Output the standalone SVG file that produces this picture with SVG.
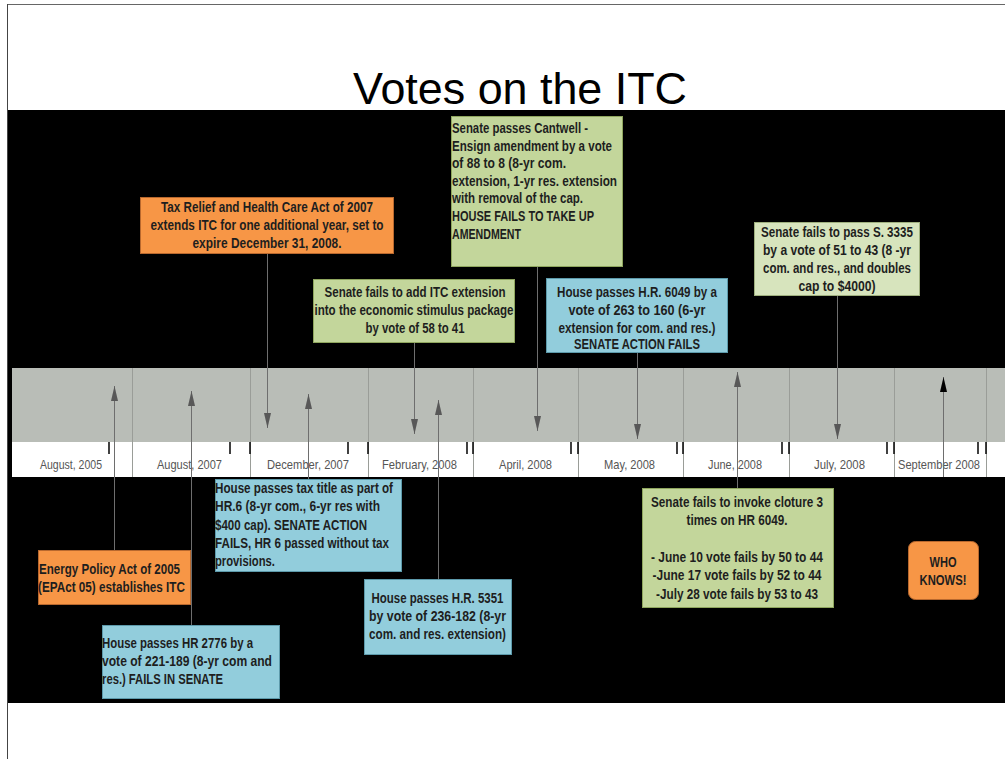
<svg xmlns="http://www.w3.org/2000/svg" width="1005" height="759" viewBox="0 0 1005 759">
<style>
.bx{font-family:"Liberation Sans",Arial,sans-serif;font-weight:bold;font-size:15px;fill:#1e1e1e}
.c{text-anchor:middle}
.lbl{font-family:"Liberation Sans",Arial,sans-serif;font-size:13px;fill:#555}
.or{fill:#F79646;stroke:#b8682e;stroke-width:1}
.gr{fill:#C3D69B;stroke:#8fa65e;stroke-width:1}
.pg{fill:#D7E4BD;stroke:#9fb07e;stroke-width:1}
.bl{fill:#92CDDC;stroke:#5d9aab;stroke-width:1}
.sep{stroke:#9a9d98;stroke-width:1}
.tk{stroke:#111;stroke-width:1.6}
.cn{stroke:#6e6e6e;stroke-width:1;fill:none}
</style>
<defs>
<marker id="ah" viewBox="0 0 15 8" markerWidth="15" markerHeight="8" refX="15" refY="4" orient="auto" markerUnits="userSpaceOnUse"><path d="M0,0.5 L15,4 L0,7.5 z" fill="#585858"/></marker>
<marker id="ahk" viewBox="0 0 15 8" markerWidth="15" markerHeight="8" refX="15" refY="4" orient="auto" markerUnits="userSpaceOnUse"><path d="M0,0.5 L15,4 L0,7.5 z" fill="#000"/></marker>
</defs>
<rect x="0" y="0" width="1005" height="759" fill="#fff"/>
<line x1="7" y1="4.5" x2="1005" y2="4.5" stroke="#666" stroke-width="1"/>
<line x1="7.5" y1="4" x2="7.5" y2="759" stroke="#444" stroke-width="1"/>
<text x="353" y="104" font-family="Liberation Sans,Arial,sans-serif" font-size="44" fill="#000" textLength="334" lengthAdjust="spacingAndGlyphs">Votes on the ITC</text>
<rect x="8" y="110" width="997" height="593" fill="#000"/>
<g id="timeline">
<rect x="12" y="368" width="993" height="74" fill="#B9BDB7"/>
<rect x="12" y="442" width="993" height="35" fill="#fff"/>
<g class="sep">
<line x1="132.5" y1="368" x2="132.5" y2="477"/><line x1="250.5" y1="368" x2="250.5" y2="477"/><line x1="368.5" y1="368" x2="368.5" y2="477"/><line x1="473.5" y1="368" x2="473.5" y2="477"/><line x1="578.5" y1="368" x2="578.5" y2="477"/><line x1="683.5" y1="368" x2="683.5" y2="477"/><line x1="789.5" y1="368" x2="789.5" y2="477"/><line x1="894.5" y1="368" x2="894.5" y2="477"/><line x1="986.5" y1="368" x2="986.5" y2="477"/>
</g>
<g class="tk">
<line x1="109" y1="442" x2="109" y2="454"/><line x1="230" y1="442" x2="230" y2="454"/><line x1="250" y1="442" x2="250" y2="454"/><line x1="348" y1="442" x2="348" y2="454"/><line x1="368" y1="442" x2="368" y2="454"/><line x1="467" y1="442" x2="467" y2="454"/><line x1="473" y1="442" x2="473" y2="454"/><line x1="571" y1="442" x2="571" y2="454"/><line x1="578" y1="442" x2="578" y2="454"/><line x1="677" y1="442" x2="677" y2="454"/><line x1="683" y1="442" x2="683" y2="454"/><line x1="782" y1="442" x2="782" y2="454"/><line x1="789" y1="442" x2="789" y2="454"/><line x1="887" y1="442" x2="887" y2="454"/><line x1="894" y1="442" x2="894" y2="454"/><line x1="978" y1="442" x2="978" y2="454"/><line x1="986" y1="442" x2="986" y2="454"/>
</g>
<g class="lbl">
<text x="40" y="469" textLength="62" lengthAdjust="spacingAndGlyphs">August, 2005</text>
<text x="157" y="469" textLength="65" lengthAdjust="spacingAndGlyphs">August, 2007</text>
<text x="267" y="469" textLength="82" lengthAdjust="spacingAndGlyphs">December, 2007</text>
<text x="382" y="469" textLength="75" lengthAdjust="spacingAndGlyphs">February, 2008</text>
<text x="499" y="469" textLength="53" lengthAdjust="spacingAndGlyphs">April, 2008</text>
<text x="604" y="469" textLength="51" lengthAdjust="spacingAndGlyphs">May, 2008</text>
<text x="708" y="469" textLength="54" lengthAdjust="spacingAndGlyphs">June, 2008</text>
<text x="814" y="469" textLength="51" lengthAdjust="spacingAndGlyphs">July, 2008</text>
<text x="898" y="469" textLength="82" lengthAdjust="spacingAndGlyphs">September 2008</text>
</g>
</g>
<g id="connectors" class="cn">
<line x1="114.5" y1="550" x2="114.5" y2="386" marker-end="url(#ah)"/>
<line x1="191.5" y1="625" x2="191.5" y2="391" marker-end="url(#ah)"/>
<line x1="308.5" y1="479" x2="308.5" y2="394" marker-end="url(#ah)"/>
<line x1="438.5" y1="579" x2="438.5" y2="400" marker-end="url(#ah)"/>
<line x1="737.5" y1="488" x2="737.5" y2="372" marker-end="url(#ah)"/>
<line x1="943.5" y1="477" x2="943.5" y2="377" marker-end="url(#ahk)"/>
<line x1="267.5" y1="253" x2="267.5" y2="428" marker-end="url(#ah)"/>
<line x1="414.5" y1="342" x2="414.5" y2="434" marker-end="url(#ah)"/>
<line x1="537.5" y1="266" x2="537.5" y2="431" marker-end="url(#ah)"/>
<line x1="637.5" y1="352" x2="637.5" y2="439" marker-end="url(#ah)"/>
<line x1="837.5" y1="295" x2="837.5" y2="439" marker-end="url(#ah)"/>
</g>
<g id="n-taxrelief">
<rect class="or" x="140.5" y="197.5" width="253" height="56"/>
<text class="bx c" x="267" y="212" textLength="212" lengthAdjust="spacingAndGlyphs">Tax Relief and Health Care Act of 2007</text>
<text class="bx c" x="267" y="230" textLength="233" lengthAdjust="spacingAndGlyphs">extends ITC for one additional year, set to</text>
<text class="bx c" x="267" y="248" textLength="149" lengthAdjust="spacingAndGlyphs">expire December 31, 2008.</text>
</g>
<g id="n-stimulus">
<rect class="gr" x="313.5" y="279.5" width="201" height="63"/>
<text class="bx c" x="415" y="297" textLength="181" lengthAdjust="spacingAndGlyphs">Senate fails to add ITC extension</text>
<text class="bx c" x="414" y="315" textLength="199" lengthAdjust="spacingAndGlyphs">into the economic stimulus package</text>
<text class="bx c" x="415" y="333" textLength="99" lengthAdjust="spacingAndGlyphs">by vote of 58 to 41</text>
</g>
<g id="n-cantwell">
<rect class="gr" x="451.5" y="116.5" width="171" height="150"/>
<text class="bx" x="452" y="133" textLength="136" lengthAdjust="spacingAndGlyphs">Senate passes Cantwell -</text>
<text class="bx" x="452" y="150.6" textLength="160" lengthAdjust="spacingAndGlyphs">Ensign amendment by a vote</text>
<text class="bx" x="452" y="168.2" textLength="114" lengthAdjust="spacingAndGlyphs">of 88 to 8 (8-yr com.</text>
<text class="bx" x="452" y="185.8" textLength="165" lengthAdjust="spacingAndGlyphs">extension, 1-yr res. extension</text>
<text class="bx" x="452" y="203.4" textLength="131" lengthAdjust="spacingAndGlyphs">with removal of the cap.</text>
<text class="bx" x="452" y="221" textLength="142" lengthAdjust="spacingAndGlyphs">HOUSE FAILS TO TAKE UP</text>
<text class="bx" x="452" y="238.6" textLength="69" lengthAdjust="spacingAndGlyphs">AMENDMENT</text>
</g>
<g id="n-hr6049">
<rect class="bl" x="546.5" y="278.5" width="181" height="74"/>
<text class="bx c" x="637" y="297" textLength="160" lengthAdjust="spacingAndGlyphs">House passes H.R. 6049 by a</text>
<text class="bx c" x="637" y="315" textLength="137" lengthAdjust="spacingAndGlyphs">vote of 263 to 160 (6-yr</text>
<text class="bx c" x="637" y="333" textLength="157" lengthAdjust="spacingAndGlyphs">extension for com. and res.)</text>
<text class="bx c" x="637" y="349" textLength="126" lengthAdjust="spacingAndGlyphs">SENATE ACTION FAILS</text>
</g>
<g id="n-s3335">
<rect class="pg" x="754.5" y="222.5" width="165" height="73"/>
<text class="bx c" x="837" y="237" textLength="152" lengthAdjust="spacingAndGlyphs">Senate fails to pass S. 3335</text>
<text class="bx c" x="837" y="255" textLength="148" lengthAdjust="spacingAndGlyphs">by a vote of 51 to 43 (8 -yr</text>
<text class="bx c" x="837" y="273" textLength="148" lengthAdjust="spacingAndGlyphs">com. and res., and doubles</text>
<text class="bx c" x="837" y="291" textLength="77" lengthAdjust="spacingAndGlyphs">cap to $4000)</text>
</g>
<g id="n-epact">
<rect class="or" x="38.5" y="550.5" width="152" height="54"/>
<text class="bx" x="39" y="574" textLength="141" lengthAdjust="spacingAndGlyphs">Energy Policy Act of 2005</text>
<text class="bx" x="38" y="592" textLength="147" lengthAdjust="spacingAndGlyphs">(EPAct 05) establishes ITC</text>
</g>
<g id="n-hr2776">
<rect class="bl" x="102.5" y="625.5" width="177" height="73"/>
<text class="bx" x="102" y="648" textLength="151" lengthAdjust="spacingAndGlyphs">House passes HR 2776 by a</text>
<text class="bx" x="102" y="666" textLength="170" lengthAdjust="spacingAndGlyphs">vote of 221-189 (8-yr com and</text>
<text class="bx" x="102" y="684" textLength="121" lengthAdjust="spacingAndGlyphs">res.) FAILS IN SENATE</text>
</g>
<g id="n-hr6">
<rect class="bl" x="215.5" y="479.5" width="186" height="92"/>
<text class="bx" x="215" y="493" textLength="178" lengthAdjust="spacingAndGlyphs">House passes tax title as part of</text>
<text class="bx" x="215" y="511" textLength="165" lengthAdjust="spacingAndGlyphs">HR.6 (8-yr com., 6-yr res with</text>
<text class="bx" x="215" y="530" textLength="152" lengthAdjust="spacingAndGlyphs">$400 cap). SENATE ACTION</text>
<text class="bx" x="215" y="548" textLength="174" lengthAdjust="spacingAndGlyphs">FAILS, HR 6 passed without tax</text>
<text class="bx" x="215" y="566" textLength="60" lengthAdjust="spacingAndGlyphs">provisions.</text>
</g>
<g id="n-hr5351">
<rect class="bl" x="364.5" y="579.5" width="147" height="75"/>
<text class="bx c" x="437.5" y="603" textLength="132" lengthAdjust="spacingAndGlyphs">House passes H.R. 5351</text>
<text class="bx c" x="437.5" y="621" textLength="137" lengthAdjust="spacingAndGlyphs">by vote of 236-182 (8-yr</text>
<text class="bx c" x="437.5" y="639" textLength="137" lengthAdjust="spacingAndGlyphs">com. and res. extension)</text>
</g>
<g id="n-cloture">
<rect class="gr" x="642.5" y="488.5" width="191" height="119"/>
<text class="bx c" x="737" y="506.5" textLength="172" lengthAdjust="spacingAndGlyphs">Senate fails to invoke cloture 3</text>
<text class="bx c" x="737" y="524.9" textLength="101" lengthAdjust="spacingAndGlyphs">times on HR 6049.</text>
<text class="bx c" x="737" y="561.7" textLength="172" lengthAdjust="spacingAndGlyphs">- June 10 vote fails by 50 to 44</text>
<text class="bx c" x="737" y="580.1" textLength="169" lengthAdjust="spacingAndGlyphs">-June 17 vote fails by 52 to 44</text>
<text class="bx c" x="737" y="598.5" textLength="162" lengthAdjust="spacingAndGlyphs">-July 28 vote fails by 53 to 43</text>
</g>
<g id="n-whoknows">
<rect class="or" x="908.5" y="541.5" width="70" height="58" rx="7" ry="7"/>
<text class="bx c" x="943" y="567" textLength="27" lengthAdjust="spacingAndGlyphs">WHO</text>
<text class="bx c" x="943" y="585" textLength="47" lengthAdjust="spacingAndGlyphs">KNOWS!</text>
</g>
</svg>
